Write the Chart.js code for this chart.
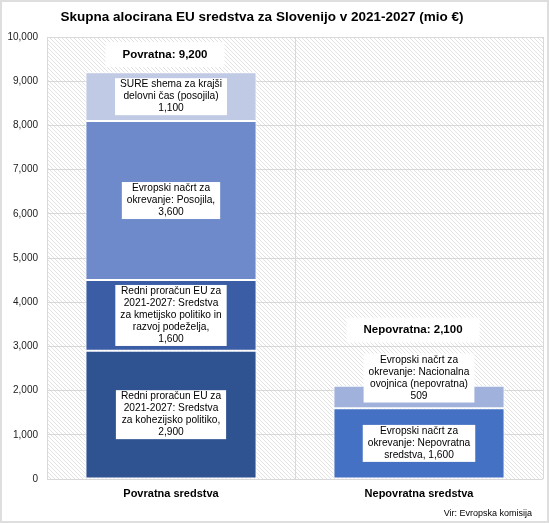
<!doctype html>
<html>

<head>
	<title>Skupna alocirana EU sredstva za Slovenijo</title>
	<script src="https://cdn.jsdelivr.net/npm/chart.js@4/dist/chart.umd.min.js"></script>
	<style>
		body { margin: 0; background: #fff; }
		#canvas-holder { width: 549px; height: 523px; }
	</style>
</head>

<body>
	<div id="canvas-holder">
		<canvas id="chart-area" width="549" height="523"></canvas>
	</div>

	<script>
		// data (mio EUR)
		const categories = ['Povratna sredstva', 'Nepovratna sredstva'];
		const totalNames = ['Povratna', 'Nepovratna'];
		const cohesion = [2900, null];
		const agriculture = [1600, null];
		const rrfLoans = [3600, null];
		const sureLoans = [1100, null];
		const rrfGrants = [null, 1600];
		const rrfNational = [null, 509];
		const yMax = 10000;
		const yStep = 1000;

		const FONT = '"Liberation Sans", Arial, Helvetica, sans-serif';
		const fmt = v => v.toLocaleString('en-US');

		function hatch() {
			const c = document.createElement('canvas');
			c.width = 4;
			c.height = 4;
			const g = c.getContext('2d');
			g.fillStyle = '#fff';
			g.fillRect(0, 0, 4, 4);
			g.strokeStyle = '#e2e2e2';
			g.lineWidth = 1;
			g.beginPath();
			g.moveTo(-1, -1); g.lineTo(5, 5);
			g.moveTo(-1, 3); g.lineTo(1, 5);
			g.moveTo(3, -1); g.lineTo(5, 1);
			g.stroke();
			return g.createPattern(c, 'repeat');
		}

		const frame = {
			id: 'frame',
			beforeDraw(chart) {
				const { ctx, chartArea: a } = chart;
				ctx.save();
				ctx.fillStyle = hatch();
				ctx.fillRect(a.left, a.top, a.right - a.left, a.bottom - a.top);
				ctx.restore();
			},
			afterDraw(chart) {
				const ctx = chart.ctx;
				ctx.save();
				ctx.strokeStyle = '#dedede';
				ctx.lineWidth = 2;
				ctx.strokeRect(1, 1, chart.width - 2, chart.height - 2);
				ctx.fillStyle = '#000';
				ctx.textAlign = 'center';
				ctx.textBaseline = 'middle';
				ctx.font = 'bold 13.5px ' + FONT;
				ctx.fillText('Skupna alocirana EU sredstva za Slovenijo v 2021-2027 (mio €)', 262, 17);
				ctx.textAlign = 'right';
				ctx.font = '9px ' + FONT;
				ctx.fillText('Vir: Evropska komisija', 532, 514);
				ctx.restore();
			}
		};

		const boxLabels = {
			id: 'boxLabels',
			afterDatasetsDraw(chart) {
				const ctx = chart.ctx;
				ctx.save();
				ctx.textAlign = 'center';
				ctx.textBaseline = 'middle';
				ctx.font = '10.2px ' + FONT;
				const tops = {};
				const stackTop = {};
				const centers = {};
				chart.data.datasets.forEach((ds, di) => {
					const meta = chart.getDatasetMeta(di);
					meta.data.forEach((bar, i) => {
						const v = ds.data[i];
						if (v == null) {
							return;
						}
						centers[i] = bar.x;
						stackTop[i] = Math.min(stackTop[i] ?? Infinity, bar.y);
						const lines = ds.labelText.replace('{v}', fmt(v)).split('\n');
						const lh = 12;
						const w = Math.max(...lines.map(l => ctx.measureText(l).width)) + 10;
						const h = lines.length * lh + 1;
						const cy = (bar.y + bar.base) / 2 + (ds.labelDy || 0);
						const top = cy - h / 2;
						tops[i] = Math.min(tops[i] ?? Infinity, top);
						ctx.fillStyle = '#fff';
						ctx.fillRect(bar.x - w / 2, top, w, h);
						ctx.fillStyle = '#000';
						lines.forEach((l, k) => ctx.fillText(l, bar.x, top + 0.5 + lh * (k + 0.5)));
					});
				});
				// totals per category
				ctx.font = 'bold 11.5px ' + FONT;
				categories.forEach((c, i) => {
					const sum = chart.data.datasets.reduce((s, ds) => s + (ds.data[i] || 0), 0);
					const text = totalNames[i] + ': ' + fmt(Math.round(sum / 100) * 100);
					const bottom = Math.min(stackTop[i] - 3, tops[i] - 11);
					const w = ctx.measureText(text).width + 34;
					const h = 25;
					const x = centers[i] - 6;
					ctx.fillStyle = '#fff';
					ctx.fillRect(x - w / 2, bottom - h, w, h);
					ctx.fillStyle = '#000';
					ctx.fillText(text, x, bottom - h / 2);
				});
				ctx.restore();
			}
		};

		const ctx2d = document.getElementById('chart-area').getContext('2d');
		window.myBar = new Chart(ctx2d, {
			type: 'bar',
			data: {
				labels: categories,
				datasets: [{
					data: cohesion,
					backgroundColor: '#2F5290',
					labelText: 'Redni proračun EU za\n2021-2027: Sredstva\nza kohezijsko politiko,\n{v}'
				}, {
					data: agriculture,
					backgroundColor: '#3A5DA6',
					labelText: 'Redni proračun EU za\n2021-2027: Sredstva\nza kmetijsko politiko in\nrazvoj podeželja,\n{v}'
				}, {
					data: rrfLoans,
					backgroundColor: '#6E8ACB',
					labelText: 'Evropski načrt za\nokrevanje: Posojila,\n{v}'
				}, {
					data: sureLoans,
					backgroundColor: '#C1CAE5',
					labelText: 'SURE shema za krajši\ndelovni čas (posojila)\n{v}'
				}, {
					data: rrfGrants,
					backgroundColor: '#4471C3',
					labelText: 'Evropski načrt za\nokrevanje: Nepovratna\nsredstva, {v}'
				}, {
					data: rrfNational,
					backgroundColor: '#A0B1DC',
					labelText: 'Evropski načrt za\nokrevanje: Nacionalna\novojnica (nepovratna)\n{v}',
					labelDy: -19
				}].map(ds => Object.assign(ds, {
					borderColor: '#fff',
					borderWidth: 1,
					borderSkipped: false,
					categoryPercentage: 1,
					barPercentage: 0.69
				}))
			},
			options: {
				responsive: false,
				animation: false,
				layout: {
					padding: { top: 37, right: 6, left: 0, bottom: 0 }
				},
				plugins: {
					legend: { display: false },
					title: { display: false },
					tooltip: { enabled: false }
				},
				scales: {
					x: {
						stacked: true,
						afterFit(scale) { scale.height = 44; },
						grid: { color: '#d9d9d9', drawTicks: false, offset: true },
						border: { display: false },
						ticks: {
							padding: 8,
							color: '#000',
							font: { family: FONT, size: 11, weight: 'bold' }
						}
					},
					y: {
						stacked: true,
						min: 0,
						max: yMax,
						afterFit(scale) { scale.width = 47; },
						grid: { color: '#d9d9d9', drawTicks: false },
						border: { display: false },
						ticks: {
							stepSize: yStep,
							padding: 9,
							color: '#222',
							font: { family: FONT, size: 10 },
							callback: v => fmt(v)
						}
					}
				}
			},
			plugins: [frame, boxLabels]
		});
	</script>
</body>

</html>
